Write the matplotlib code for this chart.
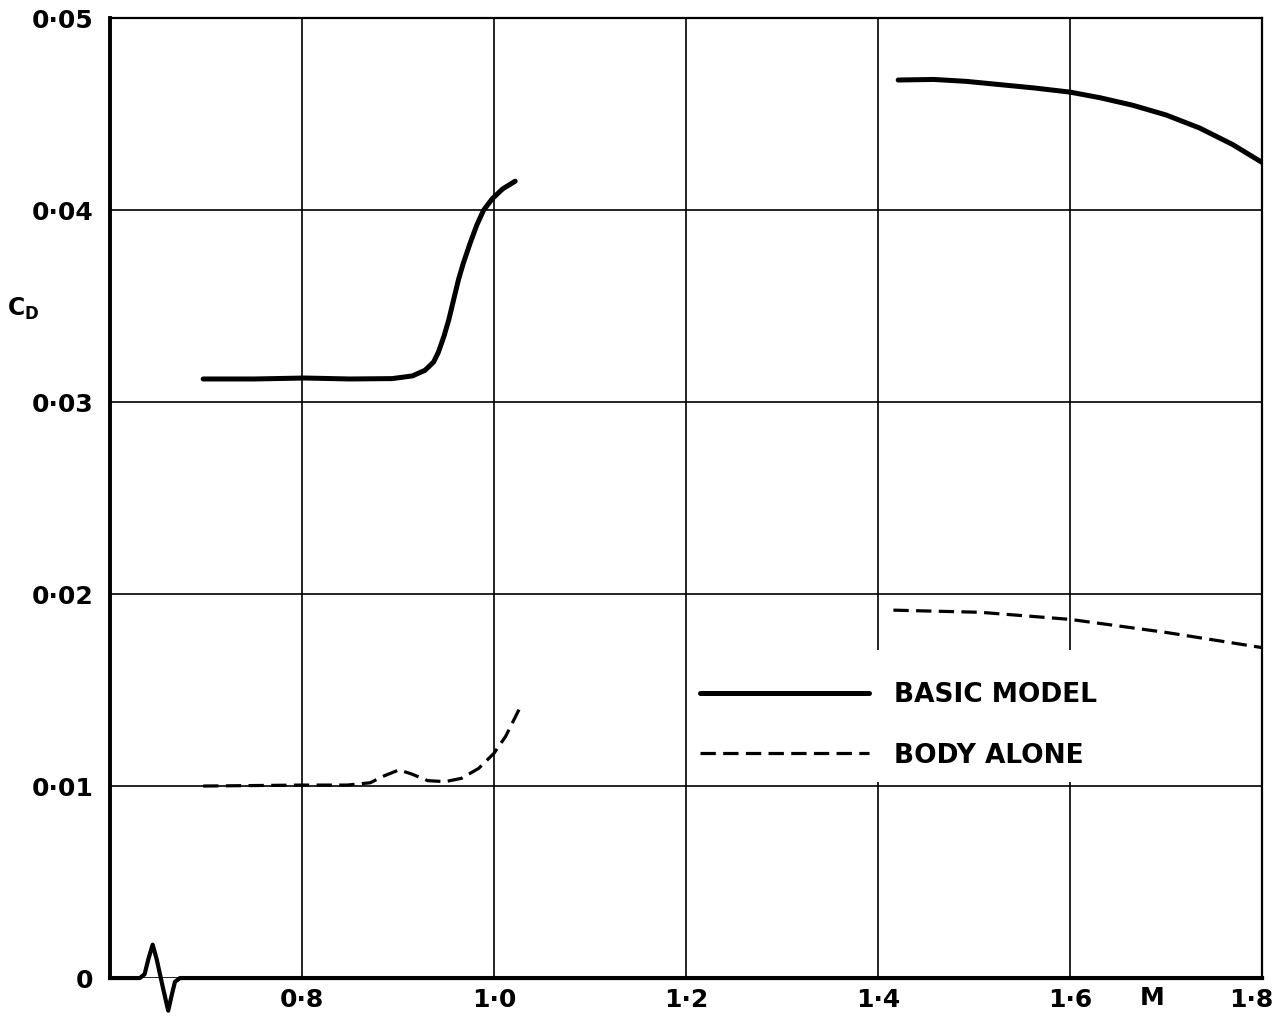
"""
Drag coefficient vs Mach number -- basic model and body alone
"""

import matplotlib.pyplot as plt
from matplotlib.patches import Rectangle
from matplotlib.transforms import ScaledTranslation


# ============================================================
# 1. data
# ============================================================

# ---- basic model, transonic run ----
mach_basic_lo = [0.697, 0.750, 0.803, 0.850, 0.894, 0.915, 0.928, 0.937,
                 0.942, 0.948, 0.953, 0.958, 0.963, 0.968, 0.975, 0.982,
                 0.989, 0.998, 1.009, 1.022]
cd_basic_lo = [0.0312, 0.0312, 0.03125, 0.0312, 0.03122, 0.03136, 0.03165,
               0.03208, 0.03259, 0.03345, 0.03431, 0.03535, 0.03638, 0.03723,
               0.03826, 0.03921, 0.03998, 0.04058, 0.0411, 0.0415]

# ---- basic model, supersonic run ----
mach_basic_hi = [1.421, 1.458, 1.492, 1.527, 1.562, 1.600, 1.631, 1.665,
                 1.700, 1.735, 1.769, 1.800]
cd_basic_hi = [0.04677, 0.0468, 0.0467, 0.04653, 0.04636, 0.04614, 0.04585,
               0.04546, 0.04495, 0.04427, 0.04342, 0.04248]

# ---- body alone, transonic run ----
mach_body_lo = [0.697, 0.800, 0.847, 0.871, 0.885, 0.901, 0.914, 0.931,
                0.949, 0.966, 0.984, 1.000, 1.012, 1.026]
cd_body_lo = [0.0100, 0.01005, 0.01005, 0.01017, 0.01052, 0.01084, 0.01063,
              0.01028, 0.01023, 0.0104, 0.01092, 0.01171, 0.01258, 0.01398]

# ---- body alone, supersonic run ----
mach_body_hi = [1.416, 1.506, 1.600, 1.700, 1.800]
cd_body_hi = [0.01916, 0.01905, 0.01868, 0.01800, 0.01721]

x_ticks = [0.8, 1.0, 1.2, 1.4, 1.6, 1.8]
x_tick_labels = ["0·8", "1·0", "1·2", "1·4", "1·6", "1·8"]
y_ticks = [0.0, 0.01, 0.02, 0.03, 0.04, 0.05]
y_tick_labels = ["0", "0·01", "0·02", "0·03", "0·04", "0·05"]

# broken-axis squiggle on the M axis near the origin
break_x = [0.600, 0.631, 0.636, 0.640, 0.6444, 0.6485, 0.6554, 0.6606,
           0.6641, 0.6676, 0.6728, 1.800]
break_y = [0.0, 0.0, 0.0002, 0.0010, 0.00174, 0.0010, -0.00057, -0.0017,
           -0.00092, -0.0002, 0.0, 0.0]


# ============================================================
# 2. plot
# ============================================================

def plot_all():
    plt.rcParams["font.family"] = ["DejaVu Sans"]
    plt.rcParams["font.weight"] = "bold"

    fig = plt.figure(figsize=(12.81, 10.17), dpi=100)
    ax = fig.add_axes([0.0859, 0.0383, 0.8993, 0.9440])

    ax.set_xlim(0.6, 1.8)
    ax.set_ylim(0.0, 0.05)

    # grid
    ax.set_axisbelow(True)
    ax.grid(True, color="black", lw=1.2)

    # white patch behind the key (hides the grid there)
    ax.add_patch(Rectangle((1.204, 0.0102), 1.8 - 1.204, 0.0171 - 0.0102,
                           facecolor="white", edgecolor="none", zorder=1))

    # curves
    solid = dict(color="black", lw=3.6, solid_capstyle="round",
                 solid_joinstyle="round", zorder=3)
    dashed = dict(color="black", lw=2.3, ls=(0, (4.8, 2.3)), zorder=3)
    ax.plot(mach_basic_lo, cd_basic_lo, label="BASIC MODEL", **solid)
    ax.plot(mach_basic_hi, cd_basic_hi, **solid)
    ax.plot(mach_body_lo, cd_body_lo, label="BODY ALONE", **dashed)
    ax.plot(mach_body_hi, cd_body_hi, **dashed)

    # axes frame
    for side in ("top", "right"):
        ax.spines[side].set_linewidth(1.6)
    ax.spines["left"].set_linewidth(2.8)
    ax.spines["bottom"].set_visible(False)
    ax.plot(break_x, break_y, color="black", lw=3.0, clip_on=False,
            solid_joinstyle="round", zorder=4)

    # ticks
    ax.set_xticks(x_ticks)
    ax.set_xticklabels(x_tick_labels, fontsize=18, fontweight="bold")
    ax.set_yticks(y_ticks)
    ax.set_yticklabels(y_tick_labels, fontsize=18, fontweight="bold")
    ax.tick_params(axis="both", length=0)
    ax.tick_params(axis="x", pad=7)
    ax.tick_params(axis="y", pad=12)
    # last M label sits against the right edge; nudge it left a little
    last = ax.get_xticklabels()[-1]
    last.set_transform(last.get_transform()
                       + ScaledTranslation(-0.11, 0, fig.dpi_scale_trans))

    # axis labels
    ax.set_xlabel("M", fontsize=18, fontweight="bold", va="center")
    ax.xaxis.set_label_coords(0.905, -0.021)
    ax.set_ylabel(r"$\mathbf{C}_{\mathbf{D}}$", fontsize=17, rotation=0,
                  ha="center", va="center")
    ax.yaxis.set_label_coords(-0.075, 0.697)

    # key
    ax.legend(loc="upper left", bbox_to_anchor=(0.512, 0.308),
              frameon=False, fontsize=19, handlelength=6.4,
              handletextpad=0.95, labelspacing=1.3, borderpad=0,
              borderaxespad=0)

    plt.savefig("out.png", dpi=100)


# ============================================================
# main
# ============================================================

if __name__ == "__main__":
    plot_all()
